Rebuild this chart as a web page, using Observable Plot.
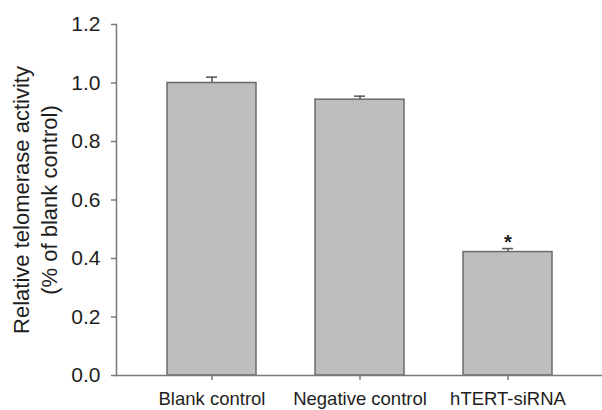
<!DOCTYPE html>
<html><head>
<meta charset="utf-8">
<script src="https://cdn.jsdelivr.net/npm/d3@7"></script>
<script src="https://cdn.jsdelivr.net/npm/@observablehq/plot@0.6"></script>
<style>body{margin:0;background:#fff}</style>
</head><body><div id="chart"></div>
<script>
const groups = ["Blank control", "Negative control", "hTERT-siRNA"];
const values = [1.00, 0.943, 0.422];
const errors = [0.02, 0.012, 0.012];
const marksText = ["", "", "*"];
const yTicks = [0, 0.2, 0.4, 0.6, 0.8, 1.0, 1.2];
const yTitle = "Relative telomerase activity\n(% of blank control)";

const data = groups.map((g, i) => ({group: g, value: values[i], err: errors[i], mark: marksText[i]}));
const axisColor = "#7a7a7a";
const textColor = "#1e1e1e";

const chart = Plot.plot({
  width: 602, height: 410,
  marginLeft: 116, marginRight: 0, marginTop: 24, marginBottom: 35,
  style: {fontFamily: "'Liberation Sans', Arial, sans-serif", background: "#fff", color: textColor},
  x: {domain: groups, paddingInner: 0.4, paddingOuter: 0.34, label: null},
  y: {domain: [0, 1.2], label: null},
  marks: [
    Plot.ruleX(data, {x: "group", y1: "value", y2: d => d.value + d.err, stroke: "#555", strokeWidth: 1.5}),
    Plot.tickY(data, {x: "group", y: d => d.value + d.err, insetLeft: 39, insetRight: 39, stroke: "#555", strokeWidth: 1.5}),
    Plot.barY(data, {x: "group", y: "value", fill: "#bebebe", stroke: "#6a6a6a", strokeWidth: 1.5}),
    Plot.text(data, {x: "group", y: d => d.value + d.err, text: "mark", dy: -6, fontSize: 20, fontWeight: "bold", fill: textColor}),
    Plot.frame({anchor: "left", stroke: axisColor, strokeWidth: 1.5}),
    Plot.frame({anchor: "bottom", stroke: axisColor, strokeWidth: 1.5}),
    Plot.axisY({ticks: yTicks, tickFormat: d3.format(".1f"), tickSize: 5, tickPadding: 11, fontSize: 21, stroke: axisColor, strokeWidth: 1.5, fill: textColor, label: null}),
    Plot.axisX({tickSize: 5, tickPadding: 11, fontSize: 18.5, stroke: axisColor, strokeWidth: 1.5, fill: textColor, label: null}),
    Plot.text([yTitle], {frameAnchor: "left", textAnchor: "middle", lineAnchor: "middle", rotate: -90, dx: -82, fontSize: 22, lineHeight: 1.27, fill: textColor})
  ]
});
document.getElementById("chart").appendChild(chart);
</script>
</body></html>
